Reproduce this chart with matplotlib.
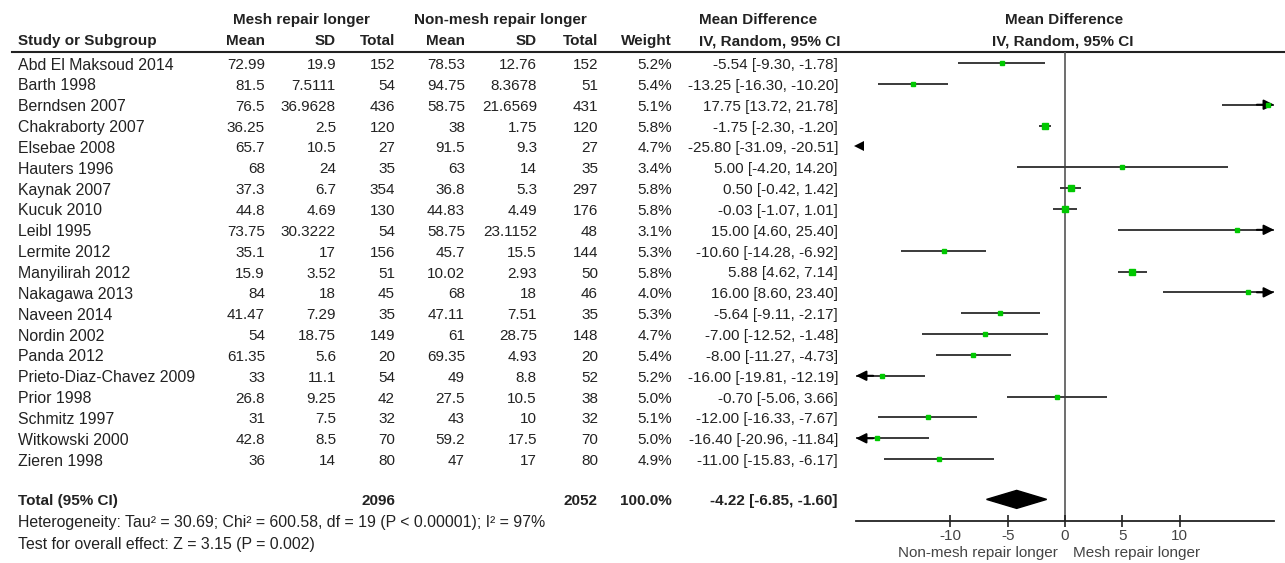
import matplotlib
matplotlib.use("Agg")
import matplotlib.pyplot as plt

plt.rcParams['font.family'] = ['Liberation Sans', 'DejaVu Sans']
plt.rcParams['axes.unicode_minus'] = False

# study-level data
studies = ["Abd El Maksoud 2014", "Barth 1998", "Berndsen 2007", "Chakraborty 2007",
           "Elsebae 2008", "Hauters 1996", "Kaynak 2007", "Kucuk 2010", "Leibl 1995",
           "Lermite 2012", "Manyilirah 2012", "Nakagawa 2013", "Naveen 2014",
           "Nordin 2002", "Panda 2012", "Prieto-Diaz-Chavez 2009", "Prior 1998",
           "Schmitz 1997", "Witkowski 2000", "Zieren 1998"]
mesh_mean = [72.99, 81.5, 76.5, 36.25, 65.7, 68, 37.3, 44.8, 73.75, 35.1,
             15.9, 84, 41.47, 54, 61.35, 33, 26.8, 31, 42.8, 36]
mesh_sd = [19.9, 7.5111, 36.9628, 2.5, 10.5, 24, 6.7, 4.69, 30.3222, 17,
           3.52, 18, 7.29, 18.75, 5.6, 11.1, 9.25, 7.5, 8.5, 14]
mesh_n = [152, 54, 436, 120, 27, 35, 354, 130, 54, 156,
          51, 45, 35, 149, 20, 54, 42, 32, 70, 80]
non_mean = [78.53, 94.75, 58.75, 38, 91.5, 63, 36.8, 44.83, 58.75, 45.7,
            10.02, 68, 47.11, 61, 69.35, 49, 27.5, 43, 59.2, 47]
non_sd = [12.76, 8.3678, 21.6569, 1.75, 9.3, 14, 5.3, 4.49, 23.1152, 15.5,
          2.93, 18, 7.51, 28.75, 4.93, 8.8, 10.5, 10, 17.5, 17]
non_n = [152, 51, 431, 120, 27, 35, 297, 176, 48, 144,
         50, 46, 35, 148, 20, 52, 38, 32, 70, 80]
weight = [5.2, 5.4, 5.1, 5.8, 4.7, 3.4, 5.8, 5.8, 3.1, 5.3,
          5.8, 4.0, 5.3, 4.7, 5.4, 5.2, 5.0, 5.1, 5.0, 4.9]
md = [-5.54, -13.25, 17.75, -1.75, -25.80, 5.00, 0.50, -0.03, 15.00, -10.60,
      5.88, 16.00, -5.64, -7.00, -8.00, -16.00, -0.70, -12.00, -16.40, -11.00]
ci_lo = [-9.30, -16.30, 13.72, -2.30, -31.09, -4.20, -0.42, -1.07, 4.60, -14.28,
         4.62, 8.60, -9.11, -12.52, -11.27, -19.81, -5.06, -16.33, -20.96, -15.83]
ci_hi = [-1.78, -10.20, 21.78, -1.20, -20.51, 14.20, 1.42, 1.01, 25.40, -6.92,
         7.14, 23.40, -2.17, -1.48, -4.73, -12.19, 3.66, -7.67, -11.84, -6.17]

# pooled result
total_mesh_n = 2096
total_non_n = 2052
total_weight = 100.0
pooled_md = -4.22
pooled_lo = -6.85
pooled_hi = -1.60

heterogeneity = "Heterogeneity: Tau² = 30.69; Chi² = 600.58, df = 19 (P < 0.00001); I² = 97%"
overall = "Test for overall effect: Z = 3.15 (P = 0.002)"

W, H = 1285, 563
ROW0, ROWH = 63, 20.85
XLIM = 18.25

fig = plt.figure(figsize=(W / 100, H / 100), dpi=100)

# table area, laid out in pixel units
tab = fig.add_axes([0, 0, 1, 1])
tab.set_xlim(0, W)
tab.set_ylim(H, 0)
tab.axis('off')

fs = 11
txt = '#222222'
bold = dict(fontsize=fs, fontweight='bold', color=txt, va='center')
norm = dict(fontsize=fs, color=txt, va='center')
wide = dict(fontsize=11.4, color=txt, va='center')

# headers
tab.text(301, 20, "Mesh repair longer", ha='center', **bold)
tab.text(500, 20, "Non-mesh repair longer", ha='center', **bold)
tab.text(758, 20, "Mean Difference", ha='center', **bold)
tab.text(1064, 20, "Mean Difference", ha='center', **bold)
tab.text(18, 41, "Study or Subgroup", ha='left', **bold)
cols = [265, 336, 395, 465, 537, 598, 672]
for x, lab in zip(cols, ["Mean", "SD", "Total", "Mean", "SD", "Total", "Weight"]):
    tab.text(x, 41, lab, ha='right', **bold)
tab.text(770, 41, "IV, Random, 95% CI", ha='center', **bold)
tab.text(1063, 41, "IV, Random, 95% CI", ha='center', **bold)
tab.plot([12, W], [52, 52], color='#222222', lw=1.5)

# one row per study
for i, name in enumerate(studies):
    y = ROW0 + ROWH * i + 2
    tab.text(18, y, name, ha='left', **wide)
    vals = [f"{mesh_mean[i]:g}", f"{mesh_sd[i]:g}", f"{mesh_n[i]}",
            f"{non_mean[i]:g}", f"{non_sd[i]:g}", f"{non_n[i]}",
            f"{weight[i]:.1f}%"]
    for x, v in zip(cols, vals):
        tab.text(x, y, v, ha='right', **norm)
    tab.text(838, y, f"{md[i]:.2f} [{ci_lo[i]:.2f}, {ci_hi[i]:.2f}]", ha='right', **norm)

ty = ROW0 + ROWH * 20.93 + 2
tab.text(18, ty, "Total (95% CI)", ha='left', **bold)
tab.text(395, ty, f"{total_mesh_n}", ha='right', **bold)
tab.text(598, ty, f"{total_non_n}", ha='right', **bold)
tab.text(672, ty, f"{total_weight:.1f}%", ha='right', **bold)
tab.text(838, ty, f"{pooled_md:.2f} [{pooled_lo:.2f}, {pooled_hi:.2f}]", ha='right', **bold)
tab.text(18, 523, heterogeneity, ha='left', **wide)
tab.text(18, 545, overall, ha='left', **wide)

# forest plot
ax_top, ax_bot = 52, 520.7
fa = fig.add_axes([856 / W, 1 - ax_bot / H, 418 / W, (ax_bot - ax_top) / H])
fa.set_xlim(-XLIM, XLIM)
fa.set_ylim((ax_bot - ROW0) / ROWH, (ax_top - ROW0) / ROWH)
fa.patch.set_alpha(0)
for s in ['top', 'left', 'right']:
    fa.spines[s].set_visible(False)
fa.spines['bottom'].set_color('#222222')
fa.spines['bottom'].set_linewidth(1.3)
fa.set_yticks([])
fa.set_xticks([-10, -5, 0, 5, 10])
fa.tick_params(axis='x', direction='inout', length=8.5, width=1.2, color='#222222',
               labelsize=fs, labelcolor='#444444', pad=1.5)
fa.axvline(0, color='#555555', lw=1.2, zorder=1)

line_c = '#3a3a3a'
arrow = dict(arrowstyle='-|>', color='black', lw=1.4, mutation_scale=15,
             shrinkA=0, shrinkB=0)
for i in range(len(studies)):
    lo, hi, m = ci_lo[i], ci_hi[i], md[i]
    if hi < -XLIM:
        # interval lies entirely off the left edge
        fa.plot(-XLIM + 0.25, i, marker='<', ms=6.5, color='black', mew=0,
                clip_on=False, zorder=3)
        continue
    a, b = max(lo, -XLIM), min(hi, XLIM)
    fa.plot([a, b], [i, i], color=line_c, lw=1.4, solid_capstyle='butt', zorder=2)
    if lo < -XLIM:
        fa.annotate('', xy=(-XLIM, i), xytext=(-XLIM + 1.5, i), arrowprops=arrow,
                    annotation_clip=False)
    if hi > XLIM:
        fa.annotate('', xy=(XLIM, i), xytext=(XLIM - 1.5, i), arrowprops=arrow,
                    annotation_clip=False)
    fa.plot(m, i, marker='s', ms=1.5 * weight[i] ** 0.5, color='#00c800',
            mec='#00c800', zorder=3, clip_on=False)

# pooled diamond
yd = 20.93
hd = 9 / ROWH
fa.fill([pooled_lo, pooled_md, pooled_hi, pooled_md], [yd, yd - hd, yd, yd + hd],
        color='black', zorder=3)

tab.text(1058, 553, "Non-mesh repair longer", ha='right', va='center', fontsize=fs, color='#444444')
tab.text(1073, 553, "Mesh repair longer", ha='left', va='center', fontsize=fs, color='#444444')

fig.savefig("out.png", dpi=100)
